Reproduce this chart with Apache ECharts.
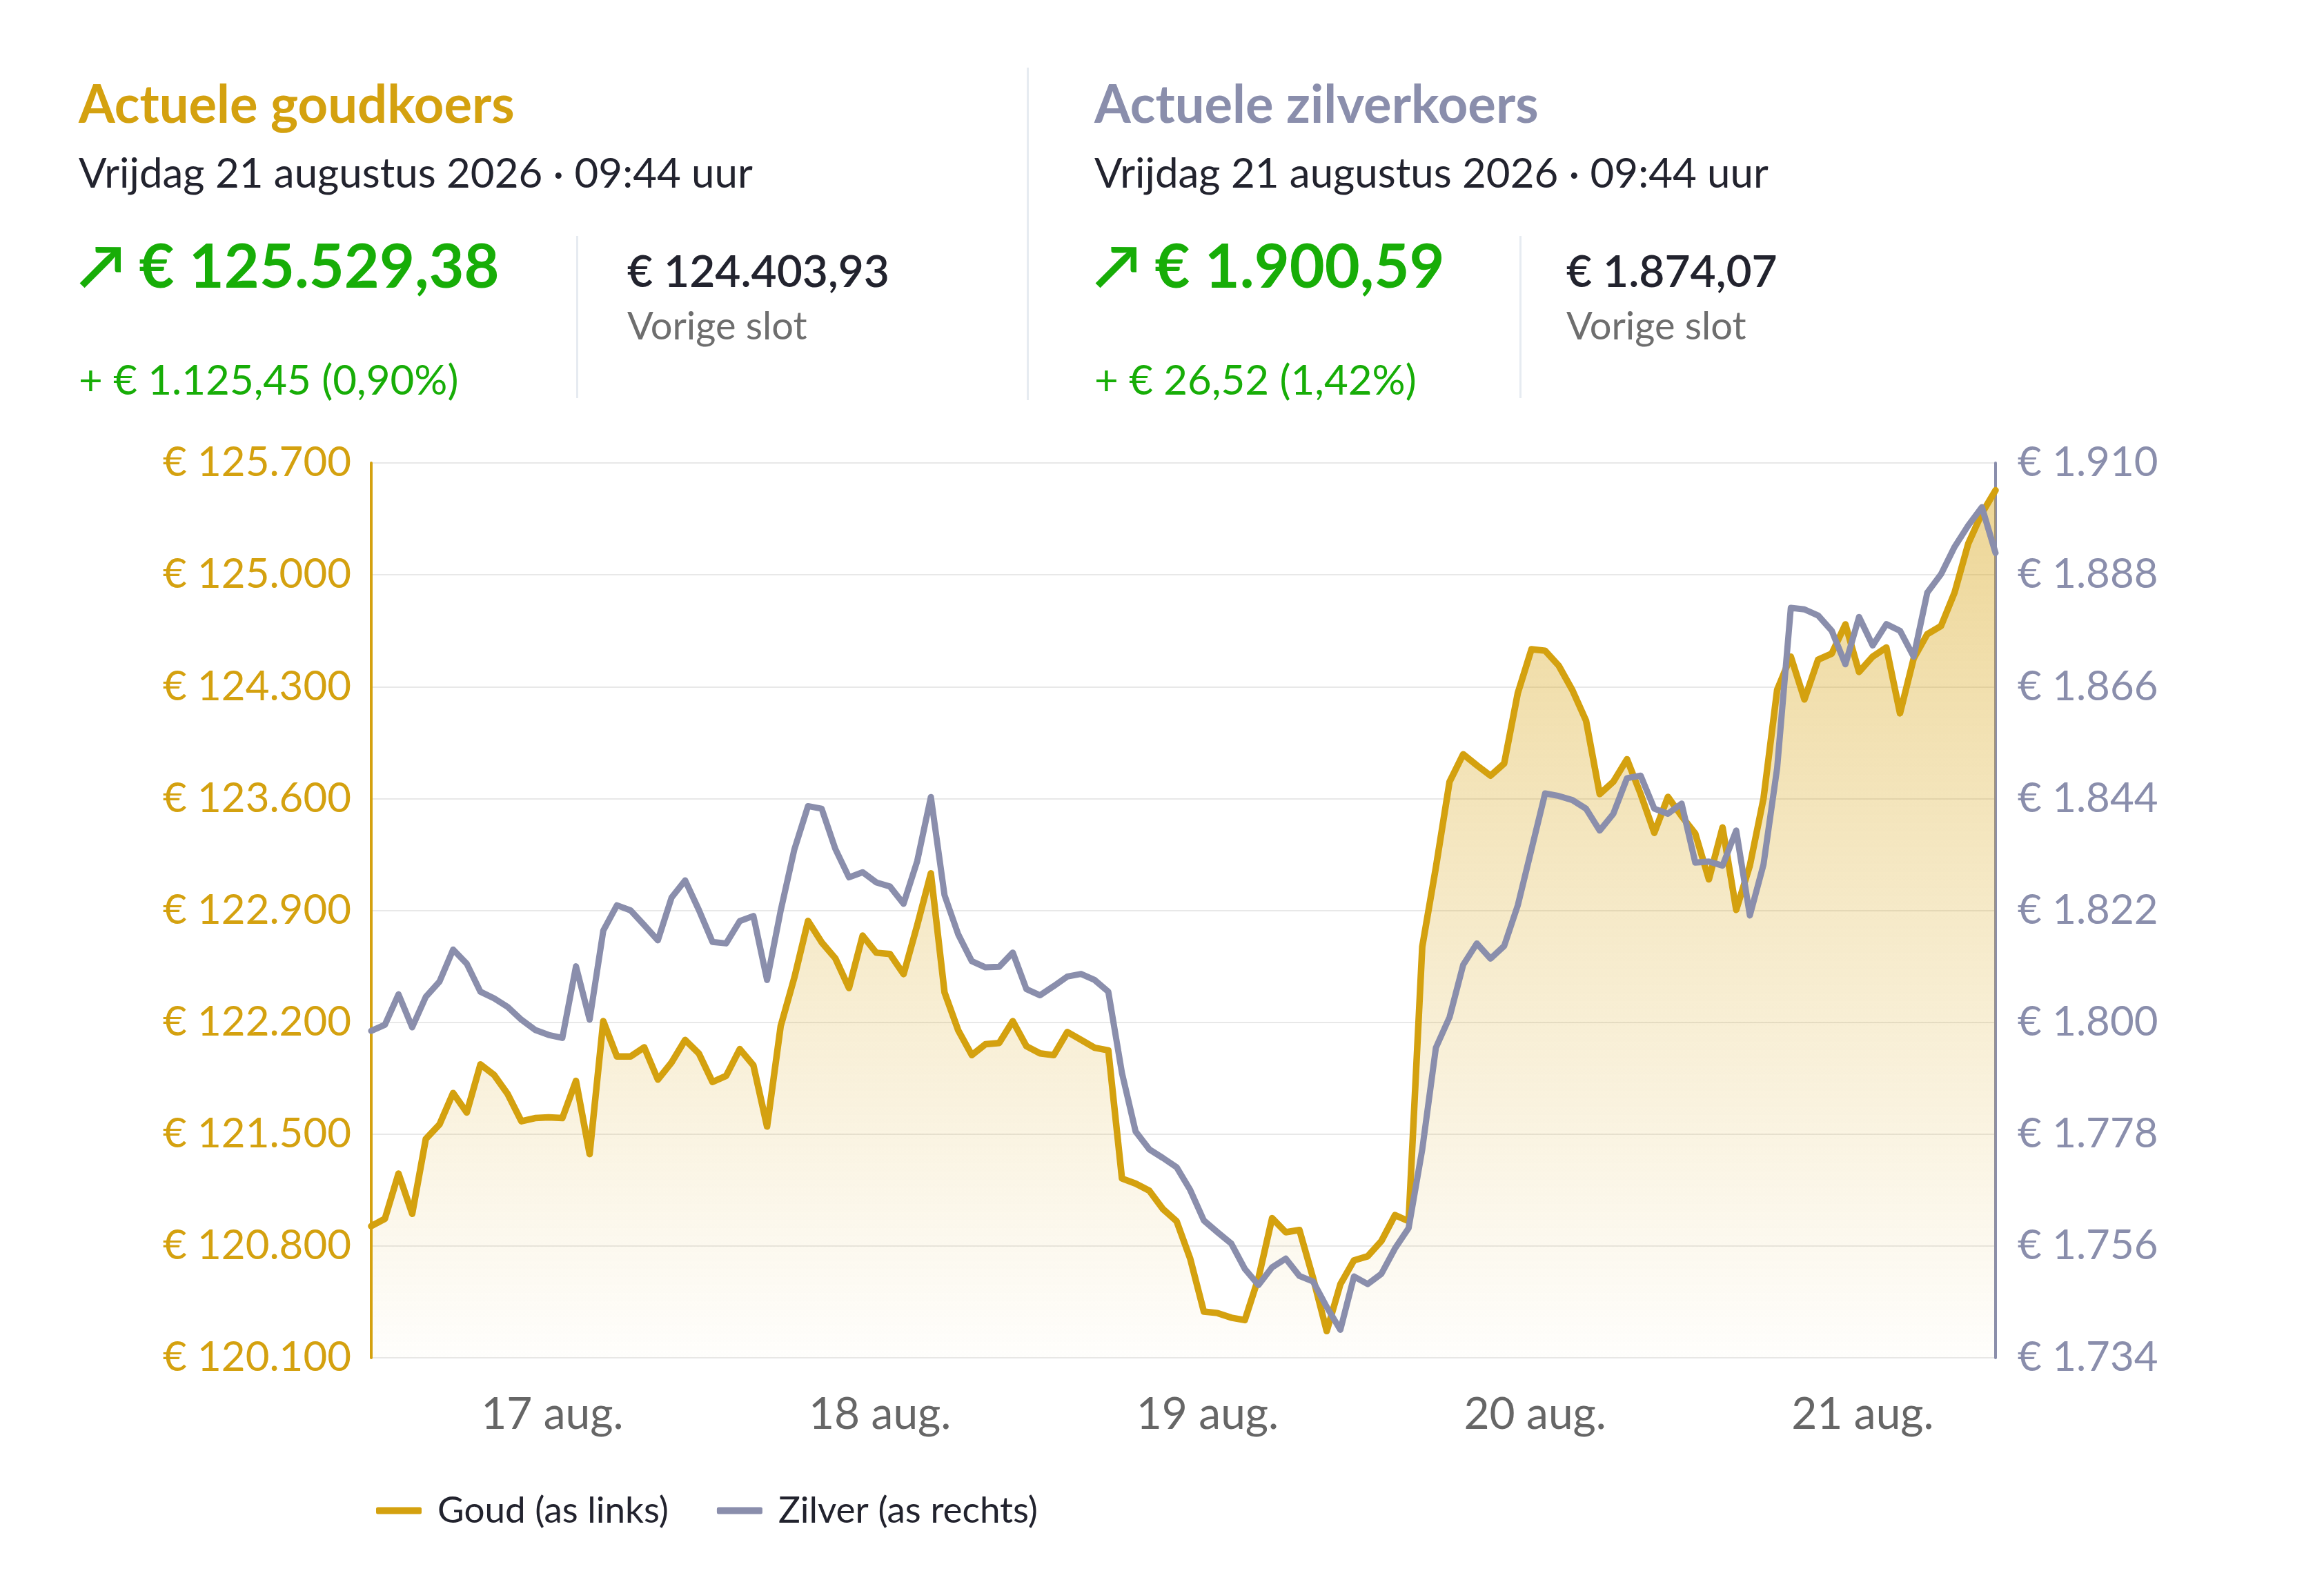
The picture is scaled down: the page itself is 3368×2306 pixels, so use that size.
<!DOCTYPE html>
<html lang="nl">
<head>
<meta charset="utf-8">
<title>Goud- en zilverkoers</title>
<script src="https://cdn.jsdelivr.net/npm/echarts@6/dist/echarts.min.js"></script>
<style>
  html, body { margin: 0; padding: 0; background: #fff; }
  #page { position: relative; width: 3368px; height: 2306px; font-family: Lato, "Noto Sans", sans-serif; }
  #chart { position: absolute; left: 0; top: 0; width: 3368px; height: 2306px; }
  .t { position: absolute; white-space: nowrap; line-height: 1; z-index: 2; }
  .vline { position: absolute; width: 3px; background: #E6EBF1; z-index: 2; }
  .gold { color: #D4A10F; font-weight: 700; font-size: 76px; }
  .silver { color: #8A8EAC; font-weight: 700; font-size: 76px; }
  .date { color: #22232E; font-size: 60px; }
  .big { color: #17AD07; font-weight: 700; font-size: 88px; }
  .chg { color: #17AD07; font-size: 60px; }
  .prev { color: #22232E; font-weight: 600; font-size: 64px; }
  .lbl { color: #6E6E6E; font-size: 56px; }
</style>
</head>
<body>
<div id="page">
  <div id="chart"></div>

  <!-- goud -->
  <div class="t gold" style="left:114px;top:111px">Actuele goudkoers</div>
  <div class="t date" style="left:114px;top:219px">Vrijdag 21 augustus 2026 · 09:44 uur</div>
  <div class="t big" style="left:114px;top:339px">↗ € 125.529,38</div>
  <div class="t chg" style="left:114px;top:519px">+ € 1.125,45 (0,90%)</div>
  <div class="vline" style="left:835px;top:342px;height:235px"></div>
  <div class="t prev" style="left:909px;top:360px">€ 124.403,93</div>
  <div class="t lbl" style="left:909px;top:443px">Vorige slot</div>

  <div class="vline" style="left:1488px;top:98px;height:482px"></div>

  <!-- zilver -->
  <div class="t silver" style="left:1586px;top:111px">Actuele zilverkoers</div>
  <div class="t date" style="left:1586px;top:219px">Vrijdag 21 augustus 2026 · 09:44 uur</div>
  <div class="t big" style="left:1586px;top:339px">↗ € 1.900,59</div>
  <div class="t chg" style="left:1586px;top:519px">+ € 26,52 (1,42%)</div>
  <div class="vline" style="left:2202px;top:342px;height:235px"></div>
  <div class="t prev" style="left:2270px;top:360px">€ 1.874,07</div>
  <div class="t lbl" style="left:2270px;top:443px">Vorige slot</div>
</div>

<script>
// kleuren
const GOLD = '#D4A10F';
const SILVER = '#8A8EAC';

// uurkoersen vanaf zo 16 aug 10:44 t/m vr 21 aug 09:44
const startTime = new Date(2026, 7, 16, 10, 44).getTime();
const HOUR = 3600 * 1000;
const DAY = 24 * HOUR;

// goud (as links)
const goud = [
  120924, 120970, 121253, 121001, 121470, 121560, 121757, 121635, 121936, 121870,
  121750, 121580, 121600, 121605, 121600, 121833, 121375, 122207, 121986, 121986,
  122043, 121841, 121948, 122089, 122005, 121826, 121864, 122032, 121930, 121547,
  122177, 122480, 122834, 122700, 122600, 122414, 122742, 122635, 122627, 122501,
  122807, 123132, 122387, 122150, 121994, 122062, 122070, 122207, 122050, 122005,
  121994, 122139, 122090, 122040, 122024, 121222, 121190, 121146, 121031, 120955,
  120720, 120389, 120380, 120351, 120336, 120600, 120974, 120886, 120900, 120600,
  120267, 120560, 120710, 120735, 120830, 120993, 120955, 122673, 123170, 123705,
  123877, 123808, 123743, 123819, 124260, 124534, 124525, 124431, 124278, 124087,
  123628, 123705, 123846, 123628, 123385, 123610, 123490, 123381, 123094, 123419,
  122903, 123180, 123600, 124280, 124488, 124220, 124469, 124507, 124690, 124392,
  124488, 124545, 124133, 124476, 124629, 124679, 124889, 125195, 125385, 125529
];

// zilver (as rechts)
const zilver = [
  1798.3, 1799.5, 1805.5, 1799.0, 1805.0, 1808.0, 1814.3, 1811.5, 1806.0, 1804.7,
  1803.0, 1800.5, 1798.5, 1797.5, 1796.9, 1811.0, 1800.5, 1818.0, 1823.0, 1822.0,
  1819.1, 1816.1, 1824.5, 1827.9, 1822.1, 1815.8, 1815.5, 1819.9, 1820.9, 1808.3,
  1822.0, 1834.0, 1842.5, 1842.0, 1834.1, 1828.5, 1829.5, 1827.5, 1826.7, 1823.3,
  1831.7, 1844.3, 1825.0, 1817.3, 1812.0, 1810.8, 1810.9, 1813.7, 1806.5, 1805.3,
  1807.1, 1809.0, 1809.5, 1808.3, 1806.0, 1790.0, 1778.5, 1775.0, 1773.3, 1771.5,
  1767.0, 1761.0, 1758.7, 1756.5, 1751.5, 1748.3, 1751.8, 1753.5, 1750.1, 1749.0,
  1744.0, 1739.5, 1750.0, 1748.5, 1750.5, 1755.5, 1759.5, 1775.0, 1795.0, 1801.0,
  1811.3, 1815.5, 1812.5, 1815.0, 1823.0, 1834.0, 1845.0, 1844.5, 1843.7, 1842.0,
  1837.7, 1841.0, 1848.0, 1848.5, 1842.0, 1841.0, 1843.0, 1831.4, 1831.6, 1830.8,
  1837.7, 1821.0, 1831.0, 1850.0, 1881.5, 1881.2, 1880.0, 1877.0, 1870.4, 1879.7,
  1874.1, 1878.3, 1877.0, 1871.9, 1884.5, 1888.1, 1893.5, 1897.7, 1901.3, 1892.3
];

// assen
const goudAs = { min: 120100, max: 125700, step: 700 };
const zilverAs = { min: 1734, max: 1910, step: 22 };

const tijden = goud.map((v, i) => startTime + i * HOUR);

// 125700 -> "125.700"
function punt(v) {
  return String(Math.round(v)).replace(/\B(?=(\d{3})+(?!\d))/g, '.');
}

const chart = echarts.init(document.getElementById('chart'));

const option = {
  animation: false,
  textStyle: { fontFamily: 'Lato' },
  grid: { left: 538, right: 476, top: 671, bottom: 338 },
  legend: {
    left: 540,
    top: 2158,
    icon: 'roundRect',
    itemWidth: 66,
    itemHeight: 10,
    itemGap: 70,
    textStyle: { color: '#22232E', fontSize: 53, fontFamily: 'Lato', padding: [0, 0, 0, 18] },
    data: ['Goud (as links)', 'Zilver (as rechts)']
  },
  xAxis: {
    type: 'time',
    min: tijden[0],
    max: tijden[tijden.length - 1],
    minInterval: DAY,
    maxInterval: DAY,
    axisLine: { show: false },
    axisTick: { show: false },
    splitLine: { show: false },
    axisLabel: {
      color: '#666666',
      fontSize: 64,
      fontFamily: 'Lato',
      margin: 50,
      showMinLabel: false,
      showMaxLabel: false,
      formatter: (v) => new Date(v).getDate() + ' aug.'
    }
  },
  yAxis: [
    {
      type: 'value',
      position: 'left',
      min: goudAs.min,
      max: goudAs.max,
      interval: goudAs.step,
      axisLine: { show: true, lineStyle: { color: GOLD, width: 4 } },
      axisTick: { show: false },
      axisLabel: { color: GOLD, fontSize: 60, fontFamily: 'Lato', margin: 29, formatter: (v) => '€ ' + punt(v) },
      splitLine: { lineStyle: { color: '#E8E8E8', width: 2 } }
    },
    {
      type: 'value',
      position: 'right',
      min: zilverAs.min,
      max: zilverAs.max,
      interval: zilverAs.step,
      axisLine: { show: true, lineStyle: { color: SILVER, width: 4 } },
      axisTick: { show: false },
      axisLabel: { color: SILVER, fontSize: 60, fontFamily: 'Lato', margin: 32, formatter: (v) => '€ ' + punt(v) },
      splitLine: { show: false }
    }
  ],
  series: [
    {
      name: 'Goud (as links)',
      type: 'line',
      yAxisIndex: 0,
      showSymbol: false,
      color: GOLD,
      data: tijden.map((t, i) => [t, goud[i]]),
      lineStyle: { color: GOLD, width: 9.5, join: 'round', cap: 'round' },
      areaStyle: {
        color: new echarts.graphic.LinearGradient(0, 0, 0, 1, [
          { offset: 0, color: 'rgba(214,161,15,0.62)' },
          { offset: 1, color: 'rgba(214,161,15,0.02)' }
        ])
      }
    },
    {
      name: 'Zilver (as rechts)',
      type: 'line',
      yAxisIndex: 1,
      showSymbol: false,
      color: SILVER,
      data: tijden.map((t, i) => [t, zilver[i]]),
      lineStyle: { color: SILVER, width: 9, join: 'round', cap: 'round' }
    }
  ]
};

chart.setOption(option);
</script>
</body>
</html>
